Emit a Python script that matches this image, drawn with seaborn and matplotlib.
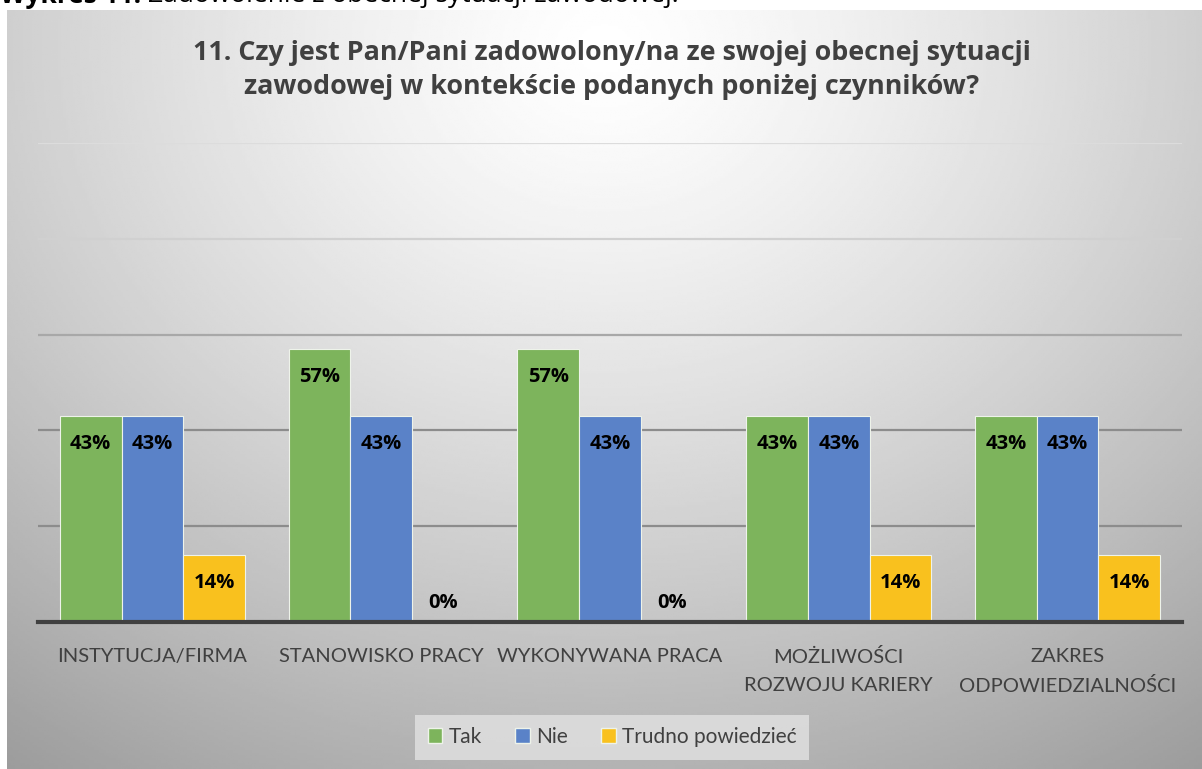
import numpy as np
import pandas as pd
import matplotlib
matplotlib.use("Agg")
import matplotlib.pyplot as plt
import seaborn as sns

categories = ["INSTYTUCJA/FIRMA", "STANOWISKO PRACY", "WYKONYWANA PRACA",
              "MOŻLIWOŚCI\nROZWOJU KARIERY", "ZAKRES\nODPOWIEDZIALNOŚCI"]
answers = ["Tak", "Nie", "Trudno powiedzieć"]
tak = [0.43, 0.57, 0.57, 0.43, 0.43]
nie = [0.43, 0.43, 0.43, 0.43, 0.43]
trudno = [0.14, 0.0, 0.0, 0.14, 0.14]
colors = ["#7db45c", "#5a82c8", "#f9c11e"]

title = ("11. Czy jest Pan/Pani zadowolony/na ze swojej obecnej sytuacji\n"
         "zawodowej w kontekście podanych poniżej czynników?")
caption_bold = "Wykres 11."
caption_rest = "Zadowolenie z obecnej sytuacji zawodowej."

df = pd.DataFrame({"kategoria": categories * 3,
                   "odpowiedz": np.repeat(answers, len(categories)),
                   "wartosc": tak + nie + trudno})

sns.set_theme(style="white")
plt.rcParams["font.family"] = ["Lato", "DejaVu Sans"]
bold_font = ["Open Sans", "DejaVu Sans"]

fig = plt.figure(figsize=(12.02, 7.69), dpi=100)
W, H = 1202, 769

# gradient background of the chart area
bg = fig.add_axes([7 / W, 0, 1 - 7 / W, 1 - 10 / H], zorder=0)
yy, xx = np.mgrid[0:1:300j, 0:1:500j]
r = np.sqrt(((xx - 0.5) / 0.75) ** 2 + ((yy - 0.05) / 1.0) ** 2)
grad = np.clip(1 - 0.32 * r ** 1.3, 0, 1)
bg.imshow(grad, cmap="gray", vmin=0, vmax=1, aspect="auto", extent=[0, 1, 1, 0])
bg.axis("off")

# caption partly cut off at top
t1 = fig.text(0.0, 1.006, caption_bold + " ", ha="left", va="center", fontsize=19,
              fontweight="bold", color="black", family=bold_font)
fig.canvas.draw()
bb = t1.get_window_extent()
fig.text(bb.x1 / W, 1.006, caption_rest, ha="left", va="center", fontsize=19,
         color="black", family=bold_font)

ax = fig.add_axes([38 / W, 1 - 622 / H, 1144 / W, (622 - 143) / H], zorder=1)
ax.patch.set_alpha(0)
sns.barplot(data=df, x="kategoria", y="wartosc", hue="odpowiedz",
            palette=colors, width=0.81, gap=0, ax=ax, saturation=1,
            edgecolor="#eef3ea", linewidth=0.8, zorder=3)

ax.set_ylim(0, 1.0)
ax.set_xlim(-0.5, len(categories) - 0.5)
ax.set_yticks(np.arange(0, 1.01, 0.2))
ax.set_yticklabels([])
ax.tick_params(axis="y", length=0)
ax.grid(axis="y", linewidth=1.6, zorder=0)
grid_cols = ["#404040", "#8c8c8c", "#8c8c8c", "#a8a8a8", "#d0d0d0", "#dcdcdc"]
for gl, c in zip(ax.get_ygridlines(), grid_cols):
    gl.set_color(c)
ax.set_axisbelow(True)
for s in ["top", "right", "left"]:
    ax.spines[s].set_visible(False)
ax.spines["bottom"].set_color("#404040")
ax.spines["bottom"].set_linewidth(3)
ax.spines["bottom"].set_zorder(5)
ax.set_xlabel("")
ax.set_ylabel("")
ax.tick_params(axis="x", length=0, pad=19, labelsize=14.5, colors="#404040")
for t in ax.get_xticklabels():
    t.set_linespacing(1.75)

for cont in ax.containers:
    for bar in cont:
        v = bar.get_height()
        x = bar.get_x() + bar.get_width() / 2
        off = -20 if v > 0 else 14
        ax.annotate(f"{v:.0%}", (x, v), xytext=(0, off), textcoords="offset points",
                    ha="center", va="center", fontsize=14.5, fontweight="bold",
                    color="black", zorder=6, family=bold_font)

ax.legend_.remove()
handles = [plt.Rectangle((0, 0), 1, 1, facecolor=c, edgecolor="#eef3ea") for c in colors]
leg = fig.legend(handles, answers, loc="center", bbox_to_anchor=(612 / W, 1 - 737 / H),
                 ncol=3, frameon=True, fontsize=15, handlelength=0.7, handleheight=0.7,
                 handletextpad=0.3, columnspacing=1.6, borderpad=0.6,
                 labelcolor="#404040", fancybox=False)
leg.get_frame().set_facecolor("#e2e2e2")
leg.get_frame().set_edgecolor("none")
leg.get_frame().set_alpha(0.8)

fig.text(612 / W, 1 - 70 / H, title, ha="center", va="center", fontsize=19.4,
         fontweight="bold", color="#404040", linespacing=1.42, family=bold_font)

fig.savefig("out.png", dpi=100)
